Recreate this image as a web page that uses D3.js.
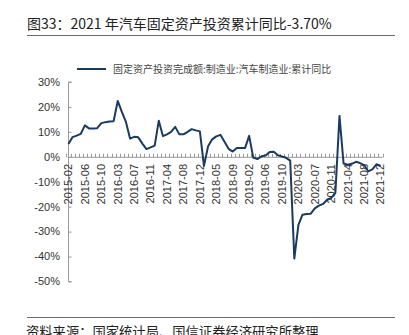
<!DOCTYPE html>
<html>
<head>
<meta charset="utf-8">
<script src="https://cdn.jsdelivr.net/npm/d3@7/dist/d3.min.js"></script>
<style>
  html, body { margin: 0; padding: 0; background: #fff; }
  svg { display: block; }
</style>
</head>
<body>
<svg id="chart" width="409" height="335"></svg>
<script>
// Monthly periods (Jan–Feb reported together, so each year starts at "-02")
const years = ["2015", "2016", "2017", "2018", "2019", "2020", "2021"];
const months = ["02", "03", "04", "05", "06", "07", "08", "09", "10", "11", "12"];
const periods = years.flatMap(y => months.map(m => `${y}-${m}`));

// Automobile manufacturing fixed-asset investment, cumulative YoY (%)
const values2015 = [5.1, 7.9, 8.5, 9.2, 12.6, 11.4, 11.4, 11.5, 13.5, 13.9, 14.2];
const values2016 = [14.3, 22.4, 18.0, 14.0, 7.3, 8.0, 7.8, 5.3, 3.1, 3.8, 4.5];
const values2017 = [14.5, 8.3, 9.0, 10.0, 12.0, 9.0, 9.0, 10.0, 11.1, 10.6, 10.2];
const values2018 = [-3.6, 4.2, 7.0, 8.2, 8.8, 6.0, 3.2, 2.1, 3.5, 3.5, 3.5];
const values2019 = [8.4, -0.3, -0.9, 0.2, 0.5, 1.9, 2.0, 0.6, 0.1, -0.4, -1.5];
const values2020 = [-40.8, -27.3, -23.2, -22.9, -22.8, -20.7, -19.6, -18.9, -17.2, -16.5, -14.5];
const values2021 = [16.4, -2.7, -3.2, -2.8, -2.0, -2.5, -3.3, -5.8, -5.0, -3.0, -3.7];
const values = [].concat(values2015, values2016, values2017, values2018, values2019, values2020, values2021);

// Labelled periods along the category axis (every fourth one)
const tickLabels = ["2015-02", "2015-06", "2015-10", "2016-03", "2016-07", "2016-11",
  "2017-04", "2017-08", "2017-12", "2018-05", "2018-09", "2019-02", "2019-06",
  "2019-10", "2020-03", "2020-07", "2020-11", "2021-04", "2021-08", "2021-12"];
const yTicks = [30, 20, 10, 0, -10, -20, -30, -40, -50];

const titleText = "图33：2021 年汽车固定资产投资累计同比-3.70%";
const seriesName = "固定资产投资完成额:制造业:汽车制造业:累计同比";
const sourceText = "资料来源：国家统计局、国信证券经济研究所整理";

const data = periods.map((p, i) => ({ period: p, value: values[i] }));

const svg = d3.select("#chart");
const cjk = "'Noto Sans CJK SC', 'Noto Sans', sans-serif";
const latin = "'Liberation Sans', Arial, sans-serif";
const lineColor = "#1b3a60";
const axisColor = "#9a9a9a";

const x = d3.scaleBand().domain(periods).range([66.4, 382.6]).paddingInner(0).paddingOuter(0);
const cx = p => x(p) + x.bandwidth() / 2;
const y = d3.scaleLinear().domain([-50, 30]).range([281.5, 82]);

// Title and rules
svg.append("text")
  .attr("x", 27).attr("y", 29)
  .attr("font-family", cjk).attr("font-size", 14).attr("fill", "#222")
  .text(titleText);
svg.append("line").attr("x1", 27).attr("x2", 395).attr("y1", 35.5).attr("y2", 35.5)
  .attr("stroke", "#6a6a6a").attr("stroke-width", 1);
svg.append("line").attr("x1", 27).attr("x2", 395).attr("y1", 317.5).attr("y2", 317.5)
  .attr("stroke", "#6a6a6a").attr("stroke-width", 1);
svg.append("text")
  .attr("x", 26).attr("y", 336.5)
  .attr("font-family", cjk).attr("font-size", 13.3).attr("fill", "#222")
  .text(sourceText);

// Legend
svg.append("line").attr("x1", 77).attr("x2", 106).attr("y1", 69).attr("y2", 69)
  .attr("stroke", lineColor).attr("stroke-width", 2);
svg.append("text")
  .attr("x", 113).attr("y", 72.5)
  .attr("font-family", cjk).attr("font-size", 10).attr("fill", "#444")
  .text(seriesName);

// Y axis: line on the left with short inward ticks
const yAxis = svg.append("g").attr("transform", "translate(68.5,0)")
  .call(d3.axisRight(y).tickValues(yTicks).tickSize(3).tickFormat(""));
yAxis.select(".domain").attr("stroke", axisColor).attr("d", `M3,${y(30)}H0V${y(-50)}H3`);
yAxis.selectAll(".tick line").attr("stroke", axisColor);

svg.append("g").selectAll("text").data(yTicks).join("text")
  .attr("x", 60).attr("y", d => y(d)).attr("dy", "0.35em")
  .attr("text-anchor", "end")
  .attr("font-family", latin).attr("font-size", 11).attr("fill", "#333")
  .text(d => d + "%");

// X axis along the zero line, one tick per category boundary
const boundaries = periods.map(p => x(p)).concat([x.range()[1]]);
const xAxis = svg.append("g").attr("transform", `translate(0,${y(0) + 0.5})`);
xAxis.append("line").attr("x1", 68.5).attr("x2", x.range()[1]).attr("y1", 0).attr("y2", 0)
  .attr("stroke", axisColor).attr("stroke-width", 1);
xAxis.selectAll("line.tk").data(boundaries).join("line").attr("class", "tk")
  .attr("x1", d => Math.round(d) + 0.5).attr("x2", d => Math.round(d) + 0.5)
  .attr("y1", 0).attr("y2", -3.5)
  .attr("stroke", axisColor).attr("stroke-width", 1);

svg.append("g").selectAll("text").data(tickLabels).join("text")
  .attr("transform", d => `translate(${cx(d)},164) rotate(-90)`)
  .attr("dy", "0.35em")
  .attr("text-anchor", "end")
  .attr("font-family", latin).attr("font-size", 11).attr("fill", "#333")
  .text(d => d);

// Series line
const line = d3.line().x(d => cx(d.period)).y(d => y(d.value));
svg.append("path").datum(data)
  .attr("d", line)
  .attr("fill", "none")
  .attr("stroke", lineColor)
  .attr("stroke-width", 2)
  .attr("stroke-linejoin", "round");
</script>
</body>
</html>
